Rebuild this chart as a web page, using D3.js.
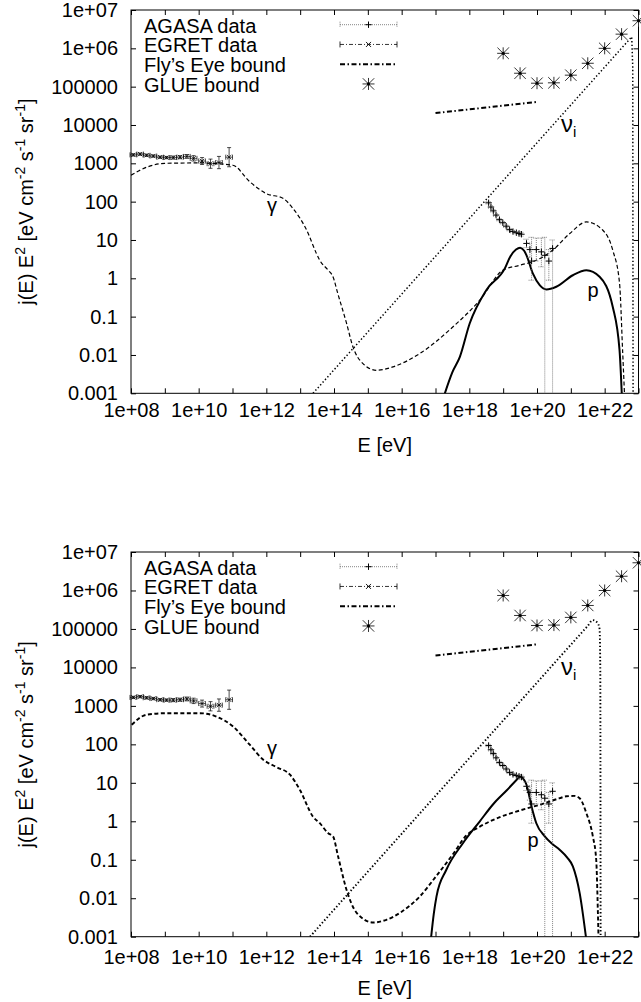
<!DOCTYPE html>
<html><head><meta charset="utf-8">
<script src="https://cdn.jsdelivr.net/npm/d3@7"></script>
<style>body{margin:0;background:#fff}svg text{font-family:"Liberation Sans",Arial,Helvetica,sans-serif;fill:#000}</style>
</head><body><svg id="c" width="641" height="1002"></svg>
<script>
// ---------- tick labels ----------
const xTickLabels = ["1e+08","1e+10","1e+12","1e+14","1e+16","1e+18","1e+20","1e+22"];
const xTickLabelValues = [1e8,1e10,1e12,1e14,1e16,1e18,1e20,1e22];
const yTickLabels = ["0.001","0.01","0.1","1","10","100","1000","10000","100000","1e+06","1e+07"];
const yTickValues = [1e-3,1e-2,1e-1,1,10,100,1000,1e4,1e5,1e6,1e7];
const xTickValues = [1e8,1e9,1e10,1e11,1e12,1e13,1e14,1e15,1e16,1e17,1e18,1e19,1e20,1e21,1e22,1e23];
const legendLabels = ["AGASA data","EGRET data","Fly\u2019s Eye bound","GLUE bound"];

// ---------- shared data (log10 E [eV], log10 j E^2) ----------
const glueLogE = [19,19.5,20,20.5,21,21.5,22,22.5,23];
const glueLogJ = [5.87,5.35,5.09,5.10,5.30,5.61,6.0,6.37,6.72];

const flysLogE = [17,20];
const flysLogJ = [4.31,4.60];

const agasaLogE  = [18.57,18.64,18.71,18.79,18.89,18.99,19.09,19.19,19.29,19.39,19.47,19.54,19.69,19.79,19.84,19.98,20.13,20.23,20.35,20.46];
const agasaLogJ  = [1.97,1.86,1.76,1.65,1.53,1.45,1.36,1.27,1.22,1.19,1.17,1.15,0.91,0.75,0.45,0.75,0.69,0.60,0.45,0.78];
const agasaLogLo = [1.94,1.83,1.73,1.62,1.50,1.42,1.33,1.24,1.19,1.16,1.13,1.10,0.80,0.55,-0.05,0.45,0.30,-3.5,-0.05,-3.5];
const agasaLogHi = [2.00,1.89,1.79,1.68,1.56,1.48,1.39,1.30,1.25,1.22,1.21,1.20,1.02,0.92,1.07,1.05,1.05,1.07,0.75,1.00];

const egretLogE  = [8.07,8.27,8.46,8.66,8.86,9.05,9.25,9.45,9.65,9.85,10.1,10.35,10.6,10.9];
const egretLogJ  = [3.22,3.24,3.21,3.19,3.16,3.15,3.15,3.16,3.18,3.13,3.06,2.99,3.02,3.16];
const egretLogErr= [0.03,0.03,0.03,0.03,0.03,0.03,0.04,0.04,0.05,0.07,0.09,0.12,0.16,0.25];
const egretLogDE = 0.1;

// ---------- panel 1 curves ----------
const gammaTopLogE = [8.0,8.5,9.0,10.04,11.01,11.51,12.0,12.49,12.78,13.19,13.48,13.58,13.83,13.97,14.11,14.37,14.56,14.85,15.26,15.74,16.54,17.51,18.31,18.99,19.49,19.98,20.46,20.97,21.46,21.94,22.24,22.44,22.53,22.59];
const gammaTopLogJ = [2.69,2.91,3.0,3.01,2.95,2.52,2.21,2.09,1.83,1.26,0.65,0.47,0.21,0.04,-0.39,-1.17,-1.79,-2.22,-2.40,-2.31,-1.96,-1.27,-0.57,0.21,0.34,0.47,0.73,1.17,1.47,1.26,0.73,-0.13,-1.88,-3.1];
const pTopLogE = [17.24,17.5,17.72,18.01,18.5,19.05,19.2,19.38,19.5,19.62,19.69,19.88,20.08,20.28,20.57,21.06,21.46,21.85,22.24,22.44,22.51];
const pTopLogJ = [-3.1,-2.45,-2.05,-1.18,-0.31,0.26,0.55,0.75,0.80,0.72,0.60,0.12,-0.18,-0.29,-0.22,0.08,0.21,0.04,-0.75,-1.88,-3.1];
const nuTopLogE = [13.38,22.8,22.83,22.84];
const nuTopLogJ = [-3.0,6.3,5.5,-3.1];

// ---------- panel 2 curves ----------
const gammaBotLogE = [8.02,8.46,9.05,10.04,10.53,11.02,11.51,11.91,12.30,12.70,12.99,13.38,13.58,13.83,13.97,14.12,14.37,14.67,15.16,15.55,16.0,16.54,17.0,17.52,17.91,18.31,18.9,19.49,20.08,20.67,20.87,21.1,21.26,21.46,21.65,21.75,21.80,21.82];
const gammaBotLogJ = [2.51,2.77,2.81,2.81,2.72,2.46,1.99,1.60,1.41,1.21,0.82,0.12,-0.05,-0.31,-0.39,-0.91,-1.78,-2.38,-2.63,-2.56,-2.35,-1.95,-1.45,-0.85,-0.37,-0.14,0.11,0.28,0.43,0.60,0.65,0.66,0.60,0.21,-0.39,-1.0,-2.38,-3.1];
const pBotLogE = [16.86,16.95,17.03,17.32,17.81,18.31,18.71,19.1,19.4,19.49,19.58,19.69,19.84,19.98,20.23,20.43,20.67,20.9,21.06,21.26,21.46];
const pBotLogJ = [-3.1,-2.4,-1.95,-1.26,-0.57,0.0,0.45,0.80,1.08,1.16,1.12,0.95,0.38,-0.05,-0.39,-0.57,-0.74,-0.95,-1.17,-1.86,-3.1];
const nuBotLogE = [13.29,15,17,19,21,21.5,21.65,21.78,21.85,21.87,21.88];
const nuBotLogJ = [-3.0,-1.31,0.66,2.62,4.59,5.08,5.23,5.17,5.0,4.0,-3.1];

// ---------- layout ----------
const W = 641, H = 1002;
const xLeft = 131, xRight = 638.5;
const FONT = 20;
const pow = v => Math.pow(10, v);
const pts = (le, lj) => le.map((e, i) => [pow(e), pow(lj[i])]);

const svg = d3.select("#c");
svg.append("rect").attr("width", W).attr("height", H).attr("fill", "#fff");
const defs = svg.append("defs");

const panels = [
  {id:1, top:10, bottom:393.3, xPad:9.5, xTitle:452, gamma:[gammaTopLogE,gammaTopLogJ], p:[pTopLogE,pTopLogJ], nu:[nuTopLogE,nuTopLogJ], nuCurve:d3.curveLinear,
   gammaW:1.2, nuW:1.5, gLab:[272,212], nuLab:[561,131.5], pLab:[593,297]},
  {id:2, top:552, bottom:936.7, xPad:13, xTitle:995, gamma:[gammaBotLogE,gammaBotLogJ], p:[pBotLogE,pBotLogJ], nu:[nuBotLogE,nuBotLogJ], nuCurve:d3.curveMonotoneX,
   gammaW:1.9, nuW:1.9, gLab:[272,755], nuLab:[561,675], pLab:[533,847]}
];

function plus(g, cx, cy, r, col, w){
  g.append("path").attr("d",`M${cx-r},${cy}H${cx+r}M${cx},${cy-r}V${cy+r}`).attr("stroke",col).attr("stroke-width",w).attr("fill","none");
}
function cross(g, cx, cy, r, col, w){
  g.append("path").attr("d",`M${cx-r},${cy-r}L${cx+r},${cy+r}M${cx-r},${cy+r}L${cx+r},${cy-r}`).attr("stroke",col).attr("stroke-width",w).attr("fill","none");
}
function star(g, cx, cy, r){
  plus(g, cx, cy, r, "#333", 1);
  cross(g, cx, cy, r*0.95, "#333", 1);
  g.append("circle").attr("cx",cx).attr("cy",cy).attr("r",1.6).attr("fill","#000");
}

panels.forEach(P => {
  const x = d3.scaleLog().domain([1e8,1e23]).range([xLeft,xRight]);
  const y = d3.scaleLog().domain([1e-3,1e7]).range([P.bottom,P.top]);
  const g = svg.append("g");
  const clipId = "clip"+P.id;
  defs.append("clipPath").attr("id",clipId).append("rect")
    .attr("x",xLeft).attr("y",P.top).attr("width",xRight-xLeft).attr("height",P.bottom-P.top);

  // axes
  const xLab = d => { const i = xTickLabelValues.findIndex(v => Math.abs(Math.log10(v)-Math.log10(d))<1e-6); return i>=0 ? xTickLabels[i] : ""; };
  const yLab = d => { const i = yTickValues.findIndex(v => Math.abs(Math.log10(v)-Math.log10(d))<1e-6); return i>=0 ? yTickLabels[i] : ""; };
  const styleAxis = a => { a.attr("font-size",null).attr("font-family",null); a.select(".domain").remove(); a.selectAll("line").attr("stroke","#000").attr("stroke-width",1); a.selectAll("text").attr("font-size",FONT).attr("fill","#000"); };
  g.append("g").attr("transform",`translate(0,${P.bottom})`)
    .call(d3.axisBottom(x).tickValues(xTickValues).tickSizeInner(-5).tickSizeOuter(0).tickPadding(P.xPad).tickFormat(xLab)).call(styleAxis);
  g.append("g").attr("transform",`translate(0,${P.top})`)
    .call(d3.axisTop(x).tickValues(xTickValues).tickSizeInner(-5).tickSizeOuter(0).tickFormat("")).call(styleAxis);
  g.append("g").attr("transform",`translate(${xLeft},0)`)
    .call(d3.axisLeft(y).tickValues(yTickValues).tickSizeInner(-5).tickSizeOuter(0).tickPadding(13).tickFormat(yLab)).call(styleAxis);
  g.append("g").attr("transform",`translate(${xRight},0)`)
    .call(d3.axisRight(y).tickValues(yTickValues).tickSizeInner(-5).tickSizeOuter(0).tickFormat("")).call(styleAxis);
  g.append("rect").attr("x",xLeft).attr("y",P.top).attr("width",xRight-xLeft).attr("height",P.bottom-P.top)
    .attr("fill","none").attr("stroke","#000").attr("stroke-width",1);

  // axis titles
  g.append("text").attr("x",(xLeft+xRight)/2).attr("y",P.xTitle).attr("text-anchor","middle").attr("font-size",FONT).text("E [eV]");
  const yt = g.append("text").attr("transform",`translate(33,${(P.top+P.bottom)/2}) rotate(-90)`).attr("text-anchor","middle").attr("font-size",FONT);
  const parts = [["j(E) E",0],["2",1],[" [eV cm",0],["-2",1],[" s",0],["-1",1],[" sr",0],["-1",1],["]",0]];
  let up = false;
  parts.forEach(([t,s]) => {
    const ts = yt.append("tspan").text(t);
    if (s && !up) { ts.attr("dy",-8).attr("font-size",14); up = true; }
    else if (s) { ts.attr("font-size",14); }
    else if (up) { ts.attr("dy",8); up = false; }
  });

  const plot = g.append("g").attr("clip-path",`url(#${clipId})`);
  const line = c => d3.line().x(d => x(d[0])).y(d => y(d[1])).curve(c);

  // theory curves
  plot.append("path").attr("d", line(d3.curveMonotoneX)(pts(P.gamma[0],P.gamma[1])))
    .attr("fill","none").attr("stroke","#000").attr("stroke-width",P.gammaW).attr("stroke-dasharray","4,2.5");
  plot.append("path").attr("d", line(P.nuCurve)(pts(P.nu[0],P.nu[1])))
    .attr("fill","none").attr("stroke","#000").attr("stroke-width",P.nuW).attr("stroke-dasharray","1.4,2.2");
  plot.append("path").attr("d", line(d3.curveMonotoneX)(pts(P.p[0],P.p[1])))
    .attr("fill","none").attr("stroke","#000").attr("stroke-width",2);

  // Fly's Eye bound
  plot.append("path").attr("d", line(d3.curveLinear)(pts(flysLogE,flysLogJ)))
    .attr("fill","none").attr("stroke","#000").attr("stroke-width",2).attr("stroke-dasharray","5,2.5,1.5,2.5");

  // AGASA data with error bars
  const ag = plot.append("g");
  agasaLogE.forEach((e,i) => {
    const cx = x(pow(e)), cy = y(pow(agasaLogJ[i]));
    const y1 = y(pow(agasaLogLo[i])), y2 = y(pow(agasaLogHi[i]));
    ag.append("path").attr("d",`M${cx},${y1}V${y2}M${cx-3},${y1}H${cx+3}M${cx-3},${y2}H${cx+3}`)
      .attr("stroke","#666").attr("stroke-width",0.8).attr("stroke-dasharray","1,1").attr("fill","none");
    plus(ag, cx, cy, 3.2, "#000", 1);
  });

  // EGRET data with xy error bars
  const eg = g.append("g");
  egretLogE.forEach((e,i) => {
    const cx = x(pow(e)), cy = y(pow(egretLogJ[i]));
    const x1 = x(pow(e-egretLogDE)), x2 = x(pow(e+egretLogDE));
    const y1 = y(pow(egretLogJ[i]-egretLogErr[i])), y2 = y(pow(egretLogJ[i]+egretLogErr[i]));
    eg.append("path").attr("d",`M${x1},${cy}H${x2}M${x1},${cy-2.5}V${cy+2.5}M${x2},${cy-2.5}V${cy+2.5}M${cx},${y1}V${y2}M${cx-2},${y1}H${cx+2}M${cx-2},${y2}H${cx+2}`)
      .attr("stroke","#000").attr("stroke-width",0.7).attr("fill","none");
    cross(eg, cx, cy, 2.2, "#000", 0.8);
  });

  // GLUE bound
  const gl = g.append("g");
  glueLogE.forEach((e,i) => star(gl, x(pow(e)), y(pow(glueLogJ[i])), 6));

  // curve labels
  g.append("text").attr("x",P.gLab[0]).attr("y",P.gLab[1]).attr("text-anchor","middle").attr("font-size",FONT).text("\u03b3");
  g.append("text").attr("x",P.pLab[0]).attr("y",P.pLab[1]).attr("text-anchor","middle").attr("font-size",FONT).text("p");
  const nt = g.append("text").attr("x",P.nuLab[0]).attr("y",P.nuLab[1]).attr("font-size",24).text("\u03bd");
  nt.append("tspan").attr("dy",5).attr("font-size",15).text("i");

  // legend
  const lg = g.append("g");
  const tx = 144, sx1 = 340, sx2 = 397, mx = 368.5;
  legendLabels.forEach((t,i) => {
    const base = P.top + 22.7 + i*19.75;
    const sy = base - 8;
    lg.append("text").attr("x",tx).attr("y",base).attr("font-size",FONT).text(t);
    if (i === 0) {
      lg.append("path").attr("d",`M${sx1},${sy}H${sx2}M${sx1},${sy-3}V${sy+3}M${sx2},${sy-3}V${sy+3}`)
        .attr("stroke","#666").attr("stroke-width",0.8).attr("stroke-dasharray","1,1").attr("fill","none");
      plus(lg, mx, sy, 3.2, "#000", 1);
    } else if (i === 1) {
      lg.append("path").attr("d",`M${sx1},${sy}H${sx2}`).attr("stroke","#000").attr("stroke-width",0.8).attr("stroke-dasharray","4,2,1,2").attr("fill","none");
      lg.append("path").attr("d",`M${sx1},${sy-3}V${sy+3}M${sx2},${sy-3}V${sy+3}`).attr("stroke","#000").attr("stroke-width",0.8);
      cross(lg, mx, sy, 2.5, "#000", 0.9);
    } else if (i === 2) {
      lg.append("path").attr("d",`M${sx1},${sy}H${sx2}`).attr("stroke","#000").attr("stroke-width",2).attr("stroke-dasharray","5,2.5,1.5,2.5");
    } else {
      star(lg, mx, sy, 6);
    }
  });
});
</script></body></html>
